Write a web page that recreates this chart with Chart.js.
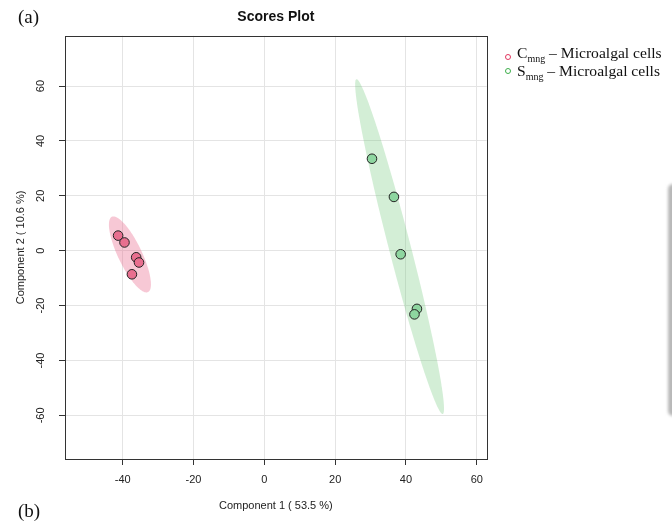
<!DOCTYPE html>
<html>
<head>
<meta charset="utf-8">
<script src="https://cdn.jsdelivr.net/npm/chart.js@4.4.1/dist/chart.umd.min.js"></script>
<style>
  body { margin: 0; background: #fff; }
  #page { position: relative; width: 672px; height: 523px; overflow: hidden; background: #fff; }
  #wrap { position: absolute; left: 0; top: 0; width: 672px; height: 523px; }
  .serif { position: absolute; font-family: "Liberation Serif", "DejaVu Serif", serif; color: #111; white-space: nowrap; }
  .tag { font-size: 19px; line-height: 20px; left: 18px; }
  .leg { font-size: 15.6px; line-height: 18px; left: 517px; }
  .leg sub { font-size: 10px; vertical-align: -4px; line-height: 0; }
  .dot { position: absolute; left: 505px; width: 6px; height: 6px; border-radius: 50%; border: 1px solid; box-sizing: border-box; }
  #shade { position: absolute; left: 668px; top: 184px; width: 12px; height: 232px; background: #b8b8b8; border-radius: 5px; filter: blur(1.5px); }
</style>
</head>
<body>
<div id="page">
  <div id="wrap"><canvas id="scoresChart"></canvas></div>
  <div class="serif tag" style="top:7px">(a)</div>
  <div class="serif tag" style="top:501px">(b)</div>
  <div class="dot" style="top:54px; border-color:#e2375f"></div>
  <div class="dot" style="top:68px; border-color:#3dae4b"></div>
  <div class="serif leg" style="top:44px">C<sub>mng</sub> – Microalgal&nbsp;cells</div>
  <div class="serif leg" style="top:62px">S<sub>mng</sub> – Microalgal&nbsp;cells</div>
  <div id="shade"></div>
</div>
<script>
// scores
const cmngX = [-41.3, -39.5, -36.2, -35.4, -37.4];
const cmngY = [5.5, 3.0, -2.4, -4.3, -8.6];
const smngX = [30.4, 36.6, 38.5, 43.1, 42.4];
const smngY = [33.5, 19.6, -1.3, -21.2, -23.2];

const groupNames = ['Cmng – Microalgal cells', 'Smng – Microalgal cells'];
const xRange = [-56.3, 62.8];
const yRange = [-75.9, 78.3];
const xTitle = 'Component 1 ( 53.5 %)';
const yTitle = 'Component 2 ( 10.6 %)';

const groups = [
    {x: cmngX, y: cmngY, fill: 'rgba(235,110,145,0.38)'},
    {x: smngX, y: smngY, fill: 'rgba(110,200,120,0.3)'}
];

const mean = a => a.reduce((s, v) => s + v, 0) / a.length;

// 95% confidence ellipses + plot box
const ellipsePlugin = {
    id: 'ellipses',
    beforeDatasetsDraw(chart) {
        const {ctx, chartArea, scales: {x, y}} = chart;
        ctx.save();
        ctx.beginPath();
        ctx.rect(chartArea.left, chartArea.top, chartArea.width, chartArea.height);
        ctx.clip();
        groups.forEach(g => {
            const n = g.x.length;
            const mx = mean(g.x), my = mean(g.y);
            let sxx = 0, syy = 0, sxy = 0;
            for (let i = 0; i < n; i++) {
                sxx += (g.x[i] - mx) ** 2;
                syy += (g.y[i] - my) ** 2;
                sxy += (g.x[i] - mx) * (g.y[i] - my);
            }
            sxx /= n - 1; syy /= n - 1; sxy /= n - 1;
            const tr = sxx + syy, det = sxx * syy - sxy * sxy;
            const d = Math.sqrt(tr * tr / 4 - det);
            const l1 = tr / 2 + d, l2 = Math.max(tr / 2 - d, 0);
            const ang = Math.atan2(l1 - sxx, sxy);
            const k = Math.sqrt(5.991);
            ctx.beginPath();
            for (let i = 0; i <= 120; i++) {
                const t = 2 * Math.PI * i / 120;
                const a = k * Math.sqrt(l1) * Math.cos(t);
                const b = k * Math.sqrt(l2) * Math.sin(t);
                const px = mx + a * Math.cos(ang) - b * Math.sin(ang);
                const py = my + a * Math.sin(ang) + b * Math.cos(ang);
                const cx = x.getPixelForValue(px), cy = y.getPixelForValue(py);
                if (i === 0) ctx.moveTo(cx, cy); else ctx.lineTo(cx, cy);
            }
            ctx.closePath();
            ctx.fillStyle = g.fill;
            ctx.fill();
        });
        ctx.restore();
    },
    afterDraw(chart) {
        const {ctx, chartArea} = chart;
        ctx.save();
        ctx.strokeStyle = '#333';
        ctx.lineWidth = 1;
        ctx.strokeRect(Math.round(chartArea.left) + 0.5, Math.round(chartArea.top) + 0.5,
            Math.round(chartArea.width), Math.round(chartArea.height));
        ctx.restore();
    }
};

const sans = 'Liberation Sans, Arial, sans-serif';
const ctx = document.getElementById('scoresChart').getContext('2d');
const scoresChart = new Chart(ctx, {
    type: 'scatter',
    data: {
        datasets: [
            {
                label: groupNames[0],
                data: cmngX.map((v, i) => ({x: v, y: cmngY[i]})),
                backgroundColor: '#e86f8f',
                borderColor: '#222',
                borderWidth: 1,
                pointRadius: 4.8
            },
            {
                label: groupNames[1],
                data: smngX.map((v, i) => ({x: v, y: smngY[i]})),
                backgroundColor: '#8ed6a0',
                borderColor: '#222',
                borderWidth: 1,
                pointRadius: 4.8
            }
        ]
    },
    options: {
        responsive: true,
        maintainAspectRatio: false,
        animation: false,
        events: [],
        layout: {padding: {left: 0, right: 185.3, top: 0, bottom: 0}},
        plugins: {
            legend: {display: false},
            tooltip: {enabled: false},
            title: {
                display: true,
                text: 'Scores Plot',
                fullSize: false,
                color: '#111',
                font: {family: sans, size: 14, weight: 'bold'},
                padding: {top: 9, bottom: 10}
            }
        },
        scales: {
            x: {
                type: 'linear',
                min: xRange[0],
                max: xRange[1],
                ticks: {stepSize: 20, includeBounds: false, padding: 8, color: '#222', font: {family: sans, size: 11}},
                grid: {color: '#e4e4e4', tickColor: '#333', tickLength: 6},
                border: {display: false},
                title: {display: true, text: xTitle, color: '#222', font: {family: sans, size: 11}, padding: {top: 0, bottom: 10.4}},
                afterFit: s => { s.height = 64; }
            },
            y: {
                type: 'linear',
                min: yRange[0],
                max: yRange[1],
                ticks: {stepSize: 20, includeBounds: false, minRotation: 90, crossAlign: 'center', padding: 10.5, color: '#222', font: {family: sans, size: 11}},
                grid: {color: '#e4e4e4', tickColor: '#333', tickLength: 6},
                border: {display: false},
                title: {display: true, text: yTitle, color: '#222', font: {family: sans, size: 11}, padding: {top: 14.4, bottom: 0}},
                afterFit: s => { s.width = 65; }
            }
        }
    },
    plugins: [ellipsePlugin]
});
</script>
</body>
</html>
